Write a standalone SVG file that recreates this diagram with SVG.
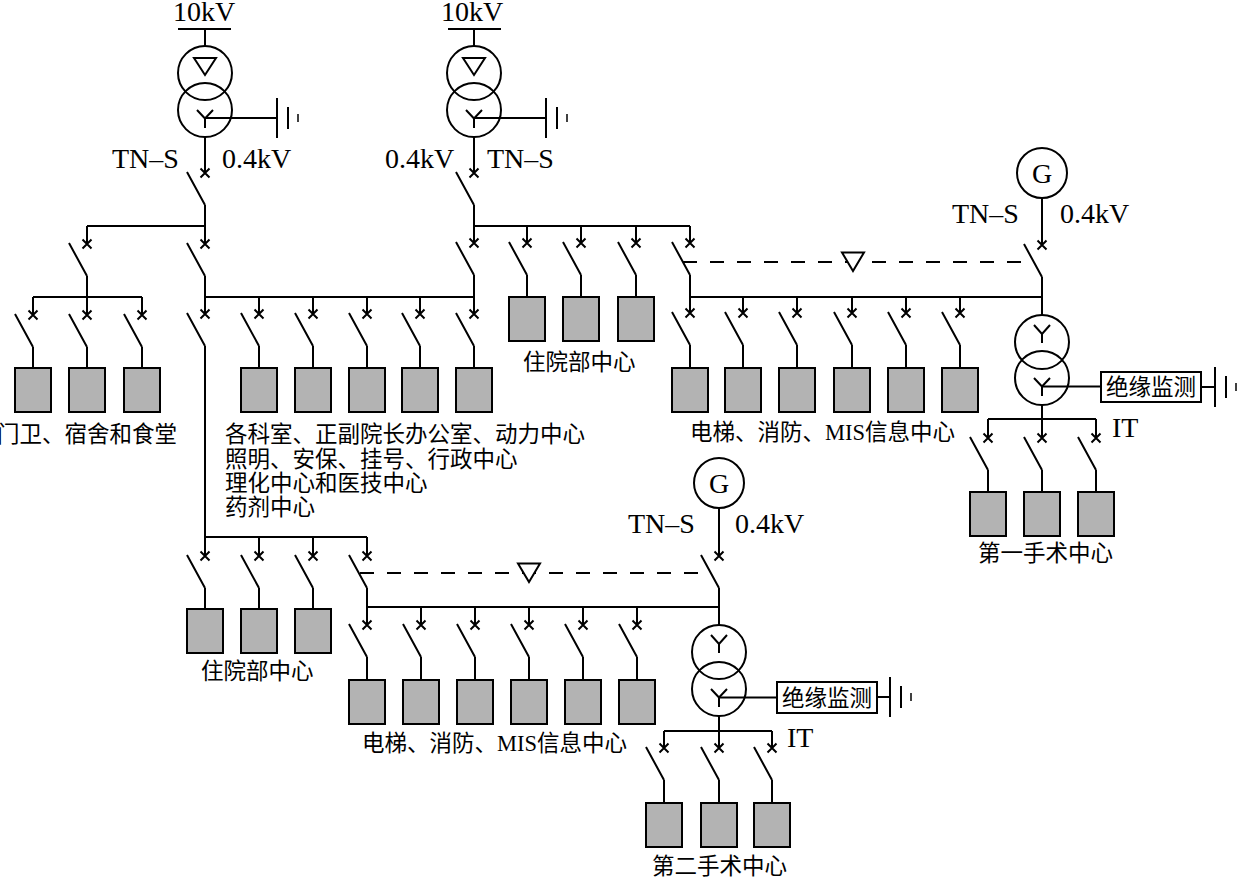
<svg xmlns="http://www.w3.org/2000/svg" xmlns:xlink="http://www.w3.org/1999/xlink" width="1237" height="877" viewBox="0 0 1237 877">
<style>
.ln{stroke:#000;stroke-width:2;fill:none}
.dash{stroke:#000;stroke-width:2;fill:none;stroke-dasharray:14 13}
.lat{font-family:"Liberation Serif","Times New Roman",serif;font-size:28px;fill:#000}
.cjk{font-family:"Liberation Serif","Noto Sans CJK SC",sans-serif;font-size:22.5px;fill:#000}
.box{fill:#fff;stroke:#000;stroke-width:2}
</style>
<defs>
<path id="brk" d="M-4.5,-4.5L4.5,4.5M4.5,-4.5L-4.5,4.5M-18,-1L0,32" stroke="#000" stroke-width="2" fill="none"/>
<rect id="load" x="-18" y="0" width="36" height="44" fill="#b3b3b3" stroke="#000" stroke-width="2"/>
<g id="gnd" stroke="#000" fill="none">
<path d="M0,-20V20M11,-11V11" stroke-width="2"/>
<path d="M21,-4V4" stroke-width="1.5"/>
</g>
<g id="yup" stroke="#000" stroke-width="2" fill="none"><path d="M-8,-17L0,-8L8,-17M0,-8V1"/></g>
<g id="ylow" stroke="#000" stroke-width="2" fill="none"><path d="M-8,0L0,8.5L8,0M0,8.5V18"/></g>
</defs>

<g id="connectors">
<path class="ln" d="M205,137V173M205,205V226M87,226H205M87,226V244M205,226V244M87,276V297M205,276V297
M33,297H142M33,297V315M87,297V315M142,297V315M33,347V368M87,347V368M142,347V368
M205,297H474M205,297V314M259,297V314M313,297V314M367,297V314M420,297V314M474,297V314
M259,346V368M313,346V368M367,346V368M420,346V368M474,346V368M205,346V537
M474,137V173M474,205V226M474,226H690M474,226V243M527,226V243M581,226V243M636,226V243M690,226V243
M474,275V297M527,275V297M581,275V297M636,275V297M690,275V297
M690,297H1042M690,297V313M743,297V313M797,297V313M852,297V313M906,297V313M960,297V313
M690,345V368M743,345V368M797,345V368M852,345V368M906,345V368M960,345V368
M1042,198V245M1042,277V315M1042,405V419M988,419H1096M988,419V438M1042,419V438M1096,419V438
M988,470V492M1042,470V492M1096,470V492
M205,537H367M205,537V556M259,537V556M313,537V556M367,537V556
M205,588V609M259,588V609M313,588V609M367,588V607
M367,607H719M367,607V625M421,607V625M475,607V625M529,607V625M583,607V625M637,607V625
M367,657V680M421,657V680M475,657V680M529,657V680M583,657V680M637,657V680
M719,508V556M719,588V625M719,716V731M664,731H772M664,731V748M719,731V748M772,731V748
M664,780V803M719,780V803M772,780V803"/>
<use xlink:href="#brk" href="#brk" x="205" y="173"/>
<use xlink:href="#brk" href="#brk" x="87" y="244"/>
<use xlink:href="#brk" href="#brk" x="205" y="244"/>
<use xlink:href="#brk" href="#brk" x="33" y="315"/>
<use xlink:href="#brk" href="#brk" x="87" y="315"/>
<use xlink:href="#brk" href="#brk" x="142" y="315"/>
<use xlink:href="#brk" href="#brk" x="205" y="314"/>
<use xlink:href="#brk" href="#brk" x="259" y="314"/>
<use xlink:href="#brk" href="#brk" x="313" y="314"/>
<use xlink:href="#brk" href="#brk" x="367" y="314"/>
<use xlink:href="#brk" href="#brk" x="420" y="314"/>
<use xlink:href="#brk" href="#brk" x="474" y="314"/>
<use xlink:href="#brk" href="#brk" x="474" y="173"/>
<use xlink:href="#brk" href="#brk" x="474" y="243"/>
<use xlink:href="#brk" href="#brk" x="527" y="243"/>
<use xlink:href="#brk" href="#brk" x="581" y="243"/>
<use xlink:href="#brk" href="#brk" x="636" y="243"/>
<use xlink:href="#brk" href="#brk" x="690" y="243"/>
<use xlink:href="#brk" href="#brk" x="690" y="313"/>
<use xlink:href="#brk" href="#brk" x="743" y="313"/>
<use xlink:href="#brk" href="#brk" x="797" y="313"/>
<use xlink:href="#brk" href="#brk" x="852" y="313"/>
<use xlink:href="#brk" href="#brk" x="906" y="313"/>
<use xlink:href="#brk" href="#brk" x="960" y="313"/>
<use xlink:href="#brk" href="#brk" x="1042" y="245"/>
<use xlink:href="#brk" href="#brk" x="988" y="438"/>
<use xlink:href="#brk" href="#brk" x="1042" y="438"/>
<use xlink:href="#brk" href="#brk" x="1096" y="438"/>
<use xlink:href="#brk" href="#brk" x="205" y="556"/>
<use xlink:href="#brk" href="#brk" x="259" y="556"/>
<use xlink:href="#brk" href="#brk" x="313" y="556"/>
<use xlink:href="#brk" href="#brk" x="367" y="556"/>
<use xlink:href="#brk" href="#brk" x="367" y="625"/>
<use xlink:href="#brk" href="#brk" x="421" y="625"/>
<use xlink:href="#brk" href="#brk" x="475" y="625"/>
<use xlink:href="#brk" href="#brk" x="529" y="625"/>
<use xlink:href="#brk" href="#brk" x="583" y="625"/>
<use xlink:href="#brk" href="#brk" x="637" y="625"/>
<use xlink:href="#brk" href="#brk" x="719" y="556"/>
<use xlink:href="#brk" href="#brk" x="664" y="748"/>
<use xlink:href="#brk" href="#brk" x="719" y="748"/>
<use xlink:href="#brk" href="#brk" x="772" y="748"/>
<path class="dash" d="M683,262H1034"/>
<polygon points="842,252.5 864,252.5 853,271" fill="#fff" stroke="#000" stroke-width="2"/>
<path class="dash" d="M360,573H711"/>
<polygon points="518,563.5 540,563.5 529,582" fill="#fff" stroke="#000" stroke-width="2"/>
</g>

<g id="T1">
<text class="lat" x="204" y="21" text-anchor="middle">10kV</text>
<path class="ln" d="M178,29H231M205,29V46M205,118H277"/>
<circle class="ln" cx="205" cy="73" r="27"/>
<circle class="ln" cx="205" cy="110" r="27"/>
<polygon points="194,58 216,58 205,75" fill="none" stroke="#000" stroke-width="2"/>
<use xlink:href="#ylow" href="#ylow" x="205" y="110"/>
<use xlink:href="#gnd" href="#gnd" x="277" y="118"/>
<text class="lat" x="112" y="168">TN–S</text>
<text class="lat" x="222" y="168">0.4kV</text>
</g>

<g id="T2">
<text class="lat" x="472" y="21" text-anchor="middle">10kV</text>
<path class="ln" d="M448,29H501M474,29V46M474,118H546"/>
<circle class="ln" cx="474" cy="73" r="27"/>
<circle class="ln" cx="474" cy="110" r="27"/>
<polygon points="463,58 485,58 474,75" fill="none" stroke="#000" stroke-width="2"/>
<use xlink:href="#ylow" href="#ylow" x="474" y="110"/>
<use xlink:href="#gnd" href="#gnd" x="546" y="118"/>
<text class="lat" x="385" y="168">0.4kV</text>
<text class="lat" x="487" y="168">TN–S</text>
</g>

<g id="G1">
<circle class="ln" cx="1042" cy="173" r="25"/>
<text class="lat" x="1042" y="183" text-anchor="middle">G</text>
<text class="lat" x="952" y="223">TN–S</text>
<text class="lat" x="1060" y="223">0.4kV</text>
</g>

<g id="T3">
<circle class="ln" cx="1042" cy="342" r="27"/>
<circle class="ln" cx="1042" cy="378" r="27"/>
<use xlink:href="#yup" href="#yup" x="1042" y="342"/>
<use xlink:href="#ylow" href="#ylow" x="1042" y="378"/>
<path class="ln" d="M1042,386.5H1101M1201,387H1215"/>
<rect class="box" x="1101" y="372" width="100" height="30"/>
<text class="cjk" x="1151" y="395" text-anchor="middle">绝缘监测</text>
<use xlink:href="#gnd" href="#gnd" x="1215" y="387"/>
<text class="lat" x="1112" y="437">IT</text>
</g>

<g id="G2">
<circle class="ln" cx="719" cy="483" r="25"/>
<text class="lat" x="719" y="493" text-anchor="middle">G</text>
<text class="lat" x="628" y="533">TN–S</text>
<text class="lat" x="735" y="533">0.4kV</text>
</g>

<g id="T4">
<circle class="ln" cx="719" cy="652" r="27"/>
<circle class="ln" cx="719" cy="689" r="27"/>
<use xlink:href="#yup" href="#yup" x="719" y="652"/>
<use xlink:href="#ylow" href="#ylow" x="719" y="689"/>
<path class="ln" d="M719,697.5H777M877,697H890"/>
<rect class="box" x="777" y="682" width="100" height="31"/>
<text class="cjk" x="827" y="706" text-anchor="middle">绝缘监测</text>
<use xlink:href="#gnd" href="#gnd" x="890" y="697"/>
<text class="lat" x="787" y="747">IT</text>
</g>

<g id="loads-gate">
<use xlink:href="#load" href="#load" x="33" y="368"/>
<use xlink:href="#load" href="#load" x="87" y="368"/>
<use xlink:href="#load" href="#load" x="142" y="368"/>
<text class="cjk" x="-3" y="442">门卫、宿舍和食堂</text>
</g>

<g id="loads-dept">
<use xlink:href="#load" href="#load" x="259" y="368"/>
<use xlink:href="#load" href="#load" x="313" y="368"/>
<use xlink:href="#load" href="#load" x="367" y="368"/>
<use xlink:href="#load" href="#load" x="420" y="368"/>
<use xlink:href="#load" href="#load" x="474" y="368"/>
<text class="cjk" x="225" y="442">各科室、正副院长办公室、动力中心</text>
<text class="cjk" x="225" y="466.5">照明、安保、挂号、行政中心</text>
<text class="cjk" x="225" y="491">理化中心和医技中心</text>
<text class="cjk" x="225" y="515">药剂中心</text>
</g>

<g id="loads-inpatient1">
<use xlink:href="#load" href="#load" x="527" y="297"/>
<use xlink:href="#load" href="#load" x="581" y="297"/>
<use xlink:href="#load" href="#load" x="636" y="297"/>
<text class="cjk" x="523" y="370">住院部中心</text>
</g>

<g id="loads-elevator1">
<use xlink:href="#load" href="#load" x="690" y="368"/>
<use xlink:href="#load" href="#load" x="743" y="368"/>
<use xlink:href="#load" href="#load" x="797" y="368"/>
<use xlink:href="#load" href="#load" x="852" y="368"/>
<use xlink:href="#load" href="#load" x="906" y="368"/>
<use xlink:href="#load" href="#load" x="960" y="368"/>
<text class="cjk" x="690" y="440">电梯、消防、MIS信息中心</text>
</g>

<g id="loads-surgery1">
<use xlink:href="#load" href="#load" x="988" y="492"/>
<use xlink:href="#load" href="#load" x="1042" y="492"/>
<use xlink:href="#load" href="#load" x="1096" y="492"/>
<text class="cjk" x="978" y="561">第一手术中心</text>
</g>

<g id="loads-inpatient2">
<use xlink:href="#load" href="#load" x="205" y="609"/>
<use xlink:href="#load" href="#load" x="259" y="609"/>
<use xlink:href="#load" href="#load" x="313" y="609"/>
<text class="cjk" x="201" y="679">住院部中心</text>
</g>

<g id="loads-elevator2">
<use xlink:href="#load" href="#load" x="367" y="680"/>
<use xlink:href="#load" href="#load" x="421" y="680"/>
<use xlink:href="#load" href="#load" x="475" y="680"/>
<use xlink:href="#load" href="#load" x="529" y="680"/>
<use xlink:href="#load" href="#load" x="583" y="680"/>
<use xlink:href="#load" href="#load" x="637" y="680"/>
<text class="cjk" x="362" y="751">电梯、消防、MIS信息中心</text>
</g>

<g id="loads-surgery2">
<use xlink:href="#load" href="#load" x="664" y="803"/>
<use xlink:href="#load" href="#load" x="719" y="803"/>
<use xlink:href="#load" href="#load" x="772" y="803"/>
<text class="cjk" x="652" y="874">第二手术中心</text>
</g>
</svg>
